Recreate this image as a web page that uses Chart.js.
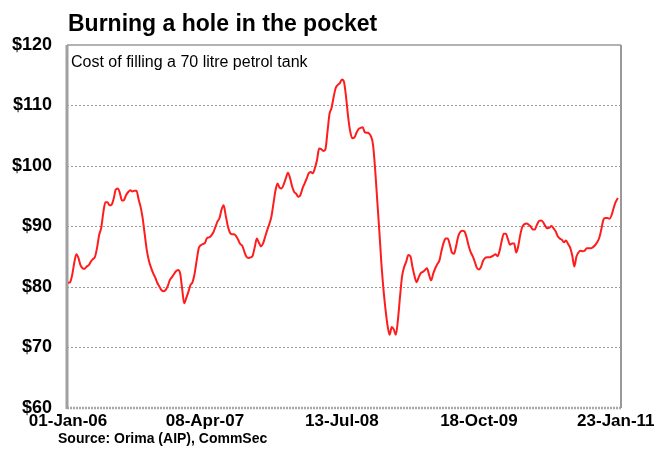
<!DOCTYPE html>
<html>
<head>
<meta charset="utf-8">
<title>Burning a hole in the pocket</title>
<script src="https://cdn.jsdelivr.net/npm/chart.js@4.4.1/dist/chart.umd.min.js"></script>
<style>
    body { margin: 0; background: #fff; }
</style>
</head>
<body>
<canvas id="petrolChart" width="665" height="473"></canvas>
<script>
// Chart text
const titleText = 'Burning a hole in the pocket';
const noteText = 'Cost of filling a 70 litre petrol tank';
const sourceText = 'Source: Orima (AIP), CommSec';

// x axis: weeks since 01-Jan-06, labelled every 66 weeks
const tickWeeks = [0, 66, 132, 198, 264];
const tickLabels = ['01-Jan-06', '08-Apr-07', '13-Jul-08', '18-Oct-09', '23-Jan-11'];

// Weekly cost of a 70 litre tank ($)
const fillCost = [
    80.7, 80.8, 82.0, 84.0, 85.4, 84.8, 83.6, 83.1, 83.0, 83.4,
    83.6, 84.2, 84.6, 85.0, 86.5, 88.6, 89.8, 92.3, 94.0, 94.0,
    93.5, 93.6, 94.6, 96.1, 96.3, 95.5, 94.3, 94.4, 95.2, 95.7,
    96.0, 95.8, 95.9, 95.9, 94.5, 93.2, 91.3, 88.6, 86.0, 84.3,
    83.2, 82.3, 81.6, 80.7, 80.1, 79.5, 79.3, 79.5, 80.1, 81.1,
    81.6, 82.1, 82.6, 82.8, 82.3, 79.7, 77.3, 78.2, 79.2, 80.3,
    80.8, 82.2, 84.4, 86.4, 86.9, 87.1,
    87.3, 88.1, 88.2, 88.5, 89.0, 89.9, 90.8, 91.4, 92.8, 93.5,
    91.8, 90.1, 89.0, 88.7, 88.7, 88.4, 87.8, 87.1, 86.8, 85.8,
    85.0, 84.8, 84.9, 85.2, 86.6, 88.0, 87.3, 86.7, 87.2, 88.3,
    89.4, 90.4, 91.6, 93.8, 96.0, 97.1, 96.4, 96.3, 97.0, 98.0,
    98.9, 98.0, 96.6, 95.7, 95.4, 94.9, 95.2, 96.3, 97.1, 97.9,
    98.8, 99.0, 98.8, 99.7, 101.0, 102.9, 102.8, 102.5, 102.7, 105.5,
    108.6, 109.6, 111.4, 112.9, 113.4, 113.7,
    114.3, 113.9, 111.4, 108.1, 105.7, 104.6, 104.7, 105.5, 106.1, 106.3,
    106.4, 105.6, 105.5, 105.4, 104.9, 103.5, 99.5, 94.4, 89.4, 84.0,
    79.7, 76.3, 73.6, 72.1, 73.4, 73.0, 72.1, 74.6, 78.4, 81.8,
    83.3, 84.2, 85.3, 85.1, 83.3, 81.8, 80.8, 81.6, 82.3, 82.5,
    82.8, 83.1, 82.0, 81.1, 82.2, 83.1, 83.8, 84.4, 86.0, 87.3,
    88.0, 88.0, 87.0, 85.7, 85.5, 86.7, 88.3, 89.1, 89.3, 89.2,
    88.3, 86.9, 85.8, 85.1, 84.2, 83.2, 82.9, 83.3,
    84.3, 84.8, 84.9, 84.9, 85.0, 85.2, 85.4, 85.1, 86.0, 87.6,
    88.8, 88.8, 87.9, 87.0, 87.2, 87.2, 85.7, 86.8, 88.7, 90.0,
    90.4, 90.5, 90.3, 90.0, 89.5, 89.5, 90.3, 90.9, 91.0, 90.7,
    90.1, 89.7, 89.8, 90.1, 89.7, 89.2, 88.4, 88.0, 87.8, 87.4,
    87.7, 87.1, 86.5, 85.2, 83.4, 85.0, 85.7, 86.0, 85.9, 86.0,
    86.4, 86.4, 86.4, 86.6, 86.9, 87.4, 88.1, 89.5, 91.1, 91.4,
    91.4, 91.3, 91.9, 93.1, 94.1, 94.7
];

const fontFamily = '"Liberation Sans", Arial, sans-serif';

// Frame around the plot plus the title, note and source lines
const decorations = {
    id: 'decorations',
    beforeDatasetsDraw(chart) {
        const { ctx, chartArea: a } = chart;
        ctx.save();
        // bottom axis: heavy dotted band
        ctx.strokeStyle = '#a8a8a8';
        ctx.lineWidth = 2.5;
        ctx.setLineDash([2, 1]);
        ctx.beginPath();
        ctx.moveTo(a.left, a.bottom);
        ctx.lineTo(a.right, a.bottom);
        ctx.stroke();
        ctx.setLineDash([]);
        // top and right edges
        ctx.strokeStyle = '#999';
        ctx.lineWidth = 1.5;
        ctx.beginPath();
        ctx.moveTo(a.left, a.top);
        ctx.lineTo(a.right, a.top);
        ctx.stroke();
        ctx.lineWidth = 2;
        ctx.beginPath();
        ctx.moveTo(a.right, a.top);
        ctx.lineTo(a.right, a.bottom);
        ctx.stroke();
        // left edge is thicker
        ctx.strokeStyle = '#a0a0a0';
        ctx.lineWidth = 3;
        ctx.beginPath();
        ctx.moveTo(a.left, a.top);
        ctx.lineTo(a.left, a.bottom + 1);
        ctx.stroke();
        ctx.restore();
    },
    afterDraw(chart) {
        const { ctx, chartArea: a } = chart;
        ctx.save();
        ctx.fillStyle = '#000';
        ctx.textAlign = 'left';
        ctx.textBaseline = 'alphabetic';
        ctx.font = 'bold 23px ' + fontFamily;
        ctx.fillText(titleText, 68, 31);
        ctx.font = '16px ' + fontFamily;
        ctx.fillText(noteText, a.left + 4, a.top + 22);
        ctx.font = 'bold 14px ' + fontFamily;
        ctx.fillText(sourceText, 58, 443);
        ctx.restore();
    }
};

const petrolCtx = document.getElementById('petrolChart').getContext('2d');
new Chart(petrolCtx, {
    type: 'line',
    data: {
        datasets: [{
            label: 'Cost of filling a 70 litre petrol tank',
            data: fillCost.map((v, i) => ({ x: i, y: v })),
            borderColor: '#ff1c1c',
            borderWidth: 2,
            pointRadius: 0,
            cubicInterpolationMode: 'monotone',
            fill: false
        }]
    },
    options: {
        responsive: false,
        animation: false,
        layout: {
            padding: { top: 45, right: 44, bottom: 30, left: 0 }
        },
        plugins: {
            legend: { display: false },
            tooltip: { enabled: false }
        },
        scales: {
            x: {
                type: 'linear',
                min: -0.5,
                max: 266.5,
                afterBuildTicks: scale => {
                    scale.ticks = tickWeeks.map(w => ({ value: w }));
                },
                afterFit: scale => { scale.height = 35; },
                grid: { display: false, drawTicks: false },
                border: { display: false },
                ticks: {
                    autoSkip: false,
                    maxRotation: 0,
                    padding: 3,
                    color: '#000',
                    font: { family: fontFamily, size: 17, weight: 'bold' },
                    callback: value => tickLabels[tickWeeks.indexOf(value)]
                }
            },
            y: {
                min: 60,
                max: 120,
                afterFit: scale => { scale.width = 67; },
                grid: {
                    drawTicks: false,
                    color: c => (c.tick && (c.tick.value === 60 || c.tick.value === 120)) ? 'rgba(0,0,0,0)' : '#9a9a9a',
                    lineWidth: 1
                },
                border: { display: false, dash: [2, 2] },
                ticks: {
                    stepSize: 10,
                    padding: 15,
                    color: '#000',
                    font: { family: fontFamily, size: 18, weight: 'bold' },
                    callback: value => '$' + value
                }
            }
        }
    },
    plugins: [decorations]
});
</script>
</body>
</html>
